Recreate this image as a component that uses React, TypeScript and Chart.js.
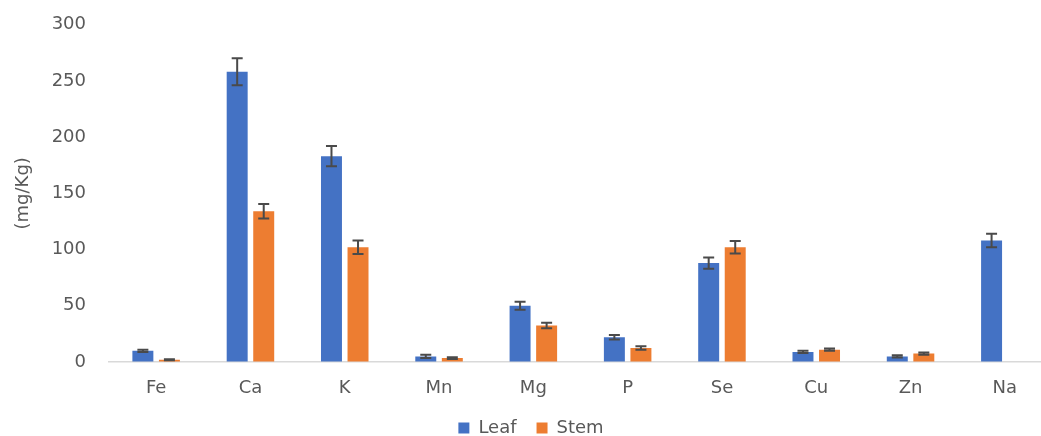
import React, { useEffect, useRef } from "react";
import { Chart, registerables } from "chart.js";

Chart.register(...registerables);

const categories = ["Fe", "Ca", "K", "Mn", "Mg", "P", "Se", "Cu", "Zn", "Na"];
const leafValues = [10, 258, 183, 5, 50, 22, 88, 9, 5, 108];
const leafErrors = [1, 12, 9, 1.5, 3.5, 2, 5, 1, 1, 6];
const stemValues = [2, 134, 102, 3.5, 32.5, 12.5, 102, 11, 7.5, 0];
const stemErrors = [0.5, 6.5, 6, 0.8, 2.5, 1.5, 5.5, 1, 1, 0];
const yTicks = [0, 50, 100, 150, 200, 250, 300];

const errorsByDataset = [leafErrors, stemErrors];

const errorBarPlugin = {
  id: "errorBars",
  afterDatasetsDraw(chart: any) {
    const ctx = chart.ctx;
    const yScale = chart.scales.y;
    ctx.save();
    ctx.strokeStyle = "#4a4a4a";
    ctx.lineWidth = 2;
    chart.data.datasets.forEach((ds: any, di: number) => {
      const meta = chart.getDatasetMeta(di);
      const errs = errorsByDataset[di];
      meta.data.forEach((bar: any, i: number) => {
        const v = ds.data[i];
        const e = errs[i];
        if (!v || !e) return;
        const x = bar.x;
        const yTop = yScale.getPixelForValue(v + e);
        const yBot = yScale.getPixelForValue(v - e);
        const cap = 5.5;
        ctx.beginPath();
        ctx.moveTo(x, yTop);
        ctx.lineTo(x, yBot);
        ctx.moveTo(x - cap, yTop);
        ctx.lineTo(x + cap, yTop);
        ctx.moveTo(x - cap, yBot);
        ctx.lineTo(x + cap, yBot);
        ctx.stroke();
      });
    });
    ctx.restore();
  },
};

export default function App() {
  const ref = useRef<HTMLCanvasElement | null>(null);
  useEffect(() => {
    if (!ref.current) return;
    const font = { family: "'DejaVu Sans', sans-serif", size: 18 };
    const chart = new Chart(ref.current, {
      type: "bar",
      data: {
        labels: categories,
        datasets: [
          {
            label: "Leaf",
            data: leafValues,
            backgroundColor: "#4472C4",
            barPercentage: 0.79,
            categoryPercentage: 0.563,
          },
          {
            label: "Stem",
            data: stemValues,
            backgroundColor: "#ED7D31",
            barPercentage: 0.79,
            categoryPercentage: 0.563,
          },
        ],
      },
      options: {
        responsive: false,
        animation: false,
        layout: { padding: { top: 24.6, left: 10, right: 0, bottom: 0 } },
        plugins: {
          tooltip: { enabled: false },
          legend: {
            position: "bottom",
            labels: {
              boxWidth: 11,
              boxHeight: 11,
              padding: 20,
              color: "#595959",
              font,
            },
          },
        },
        scales: {
          x: {
            grid: { display: false, drawTicks: false },
            border: { display: true, color: "#d9d9d9", width: 1.5 },
            ticks: { color: "#595959", font, padding: 16 },
            afterFit: (s: any) => {
              s.height = 37;
            },
          },
          y: {
            min: 0,
            max: 300,
            afterBuildTicks: (s: any) => {
              s.ticks = yTicks.map((v) => ({ value: v }));
            },
            grid: {
              display: true,
              drawOnChartArea: false,
              drawTicks: true,
              tickLength: 20,
              color: "rgba(0,0,0,0)",
            },
            border: { display: false },
            ticks: { color: "#595959", font, padding: 3 },
            title: {
              display: true,
              text: "(mg/Kg)",
              color: "#595959",
              font,
              padding: { top: 3, bottom: 0 },
            },
            afterFit: (s: any) => {
              s.width = 99;
            },
          },
        },
      },
      plugins: [errorBarPlugin],
    });
    return () => chart.destroy();
  }, []);

  return (
    <div
      style={{
        position: "fixed",
        left: 0,
        top: 0,
        width: 1041,
        height: 436,
        overflow: "hidden",
        background: "#fff",
      }}
    >
      <canvas ref={ref} width={1052} height={447} style={{ position: "absolute", left: 0, top: 0 }} />
    </div>
  );
}
